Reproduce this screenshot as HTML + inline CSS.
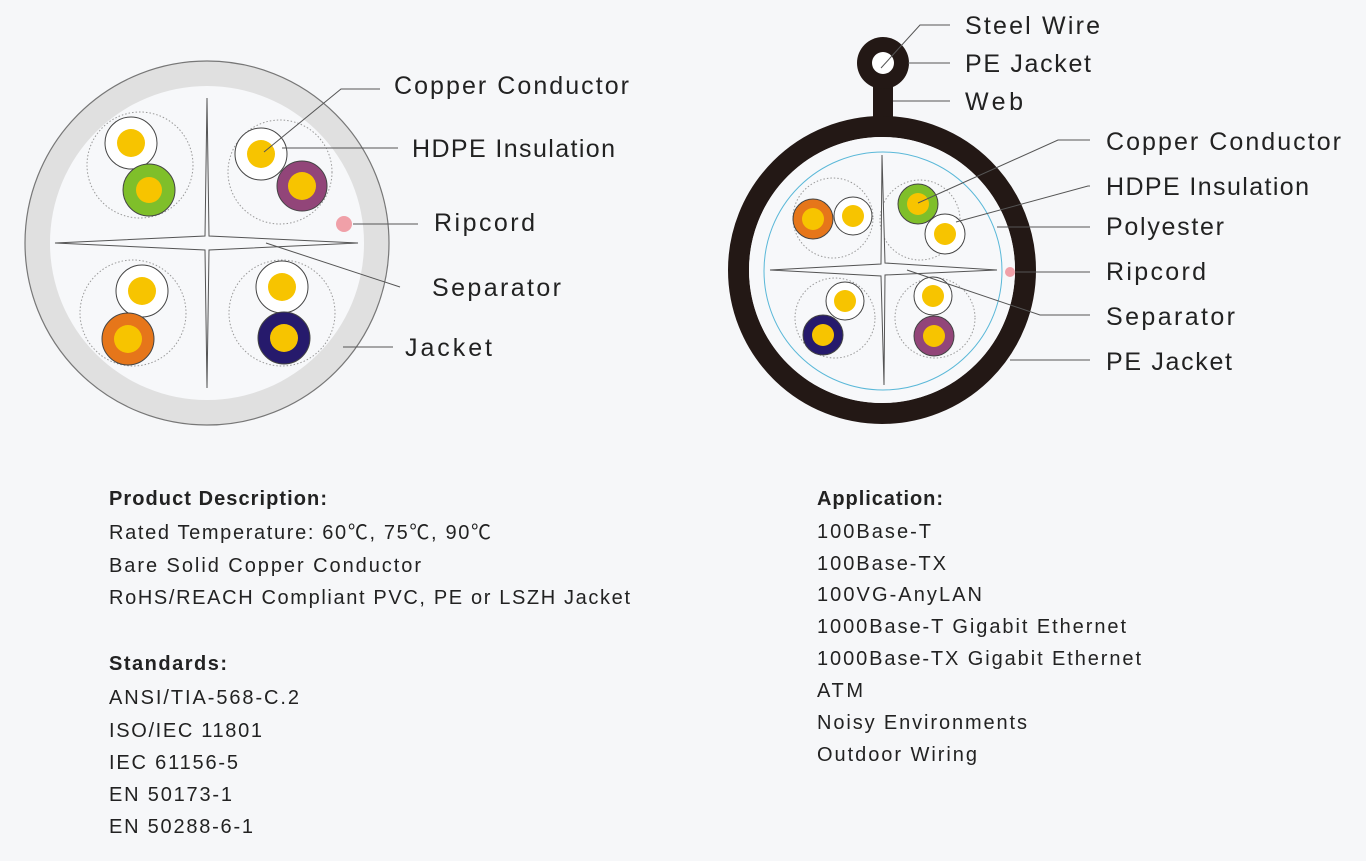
<!DOCTYPE html>
<html><head><meta charset="utf-8"><style>
body{margin:0;background:#f6f7f9;}
svg{display:block}
text{font-family:"Liberation Sans","Noto Sans CJK SC",sans-serif;fill:#222;}
.l{font-size:25px}
.b{font-size:20px}
.h{font-size:20px;font-weight:bold}
</style></head><body>
<svg width="1366" height="861" viewBox="0 0 1366 861">
<rect width="1366" height="861" fill="#f6f7f9"/>
<circle cx="207" cy="243" r="182" fill="#e0e0e0" stroke="#777" stroke-width="1.2"/>
<circle cx="207" cy="243" r="157" fill="#f7f8fa"/>
<g fill="none" stroke="#999" stroke-width="1" stroke-dasharray="1.5,2">
<circle cx="140" cy="165" r="53"/><circle cx="280" cy="172" r="52"/>
<circle cx="133" cy="313" r="53"/><circle cx="282" cy="313" r="53"/></g>
<path d="M207,98 L209,236 L358,243 L209,250 L207,388 L205,250 L55,243 L205,236 Z" fill="#f7f8fa" stroke="#555" stroke-width="1"/>
<g stroke="#444" stroke-width="1">
<circle cx="131" cy="143" r="26" fill="#fff"/><circle cx="149" cy="190" r="26" fill="#7fbf2a"/>
<circle cx="261" cy="154" r="26" fill="#fff"/><circle cx="302" cy="186" r="25" fill="#924579"/>
<circle cx="142" cy="291" r="26" fill="#fff"/><circle cx="128" cy="339" r="26" fill="#e6761a"/>
<circle cx="282" cy="287" r="26" fill="#fff"/><circle cx="284" cy="338" r="26" fill="#261a6c"/></g>
<g fill="#f7c400">
<circle cx="131" cy="143" r="14"/><circle cx="149" cy="190" r="13"/>
<circle cx="261" cy="154" r="14"/><circle cx="302" cy="186" r="14"/>
<circle cx="142" cy="291" r="14"/><circle cx="128" cy="339" r="14"/>
<circle cx="282" cy="287" r="14"/><circle cx="284" cy="338" r="14"/></g>
<circle cx="344" cy="224" r="8" fill="#f0a0a8"/>
<g stroke="#555" stroke-width="1" fill="none">
<polyline points="264,152 341,89 380,89"/>
<line x1="282" y1="148" x2="398" y2="148"/>
<line x1="353" y1="224" x2="418" y2="224"/>
<line x1="266" y1="243" x2="400" y2="287"/>
<line x1="343" y1="347" x2="393" y2="347"/></g>
<text class="l" x="394" y="94" textLength="235">Copper Conductor</text>
<text class="l" x="412" y="157" textLength="203">HDPE Insulation</text>
<text class="l" x="434" y="231" textLength="101">Ripcord</text>
<text class="l" x="432" y="296" textLength="129">Separator</text>
<text class="l" x="405" y="356" textLength="87">Jacket</text>
<rect x="873" y="75" width="20" height="50" fill="#231815"/>
<circle cx="883" cy="63" r="26" fill="#231815"/>
<circle cx="883" cy="63" r="11" fill="#fff"/>
<circle cx="882" cy="270" r="143.5" fill="none" stroke="#231815" stroke-width="21"/>
<circle cx="882" cy="270" r="133" fill="#f7f8fa"/>
<circle cx="883" cy="271" r="119" fill="none" stroke="#5ab8d8" stroke-width="1"/>
<g fill="none" stroke="#999" stroke-width="1" stroke-dasharray="1.5,2">
<circle cx="833" cy="218" r="40"/><circle cx="920" cy="220" r="40"/>
<circle cx="835" cy="318" r="40"/><circle cx="935" cy="318" r="40"/></g>
<path d="M882,155 L885,263 L997,270 L885,275 L884,385 L881,276 L770,270 L881,264 Z" fill="#f7f8fa" stroke="#555" stroke-width="1"/>
<g stroke="#444" stroke-width="1">
<circle cx="813" cy="219" r="20" fill="#e6761a"/><circle cx="853" cy="216" r="19" fill="#fff"/>
<circle cx="918" cy="204" r="20" fill="#7fbf2a"/><circle cx="945" cy="234" r="20" fill="#fff"/>
<circle cx="845" cy="301" r="19" fill="#fff"/><circle cx="823" cy="335" r="20" fill="#261a6c"/>
<circle cx="933" cy="296" r="19" fill="#fff"/><circle cx="934" cy="336" r="20" fill="#924579"/></g>
<g fill="#f7c400">
<circle cx="813" cy="219" r="11"/><circle cx="853" cy="216" r="11"/>
<circle cx="918" cy="204" r="11"/><circle cx="945" cy="234" r="11"/>
<circle cx="845" cy="301" r="11"/><circle cx="823" cy="335" r="11"/>
<circle cx="933" cy="296" r="11"/><circle cx="934" cy="336" r="11"/></g>
<circle cx="1010" cy="272" r="5" fill="#f0a0a8"/>
<g stroke="#555" stroke-width="1" fill="none">
<polyline points="881,68 920,25 950,25"/>
<line x1="908" y1="63" x2="950" y2="63"/>
<line x1="893" y1="101" x2="950" y2="101"/>
<polyline points="918,203 1058,140 1090,140"/>
<polyline points="956,222 1088,186 1090,186"/>
<line x1="997" y1="227" x2="1090" y2="227"/>
<line x1="1015" y1="272" x2="1090" y2="272"/>
<polyline points="907,270 1040,315 1090,315"/>
<line x1="1010" y1="360" x2="1090" y2="360"/></g>
<text class="l" x="965" y="34" textLength="135">Steel  Wire</text>
<text class="l" x="965" y="72" textLength="126">PE Jacket</text>
<text class="l" x="965" y="110" textLength="58">Web</text>
<text class="l" x="1106" y="150" textLength="235">Copper Conductor</text>
<text class="l" x="1106" y="195" textLength="203">HDPE Insulation</text>
<text class="l" x="1106" y="235" textLength="118">Polyester</text>
<text class="l" x="1106" y="280" textLength="100">Ripcord</text>
<text class="l" x="1106" y="325" textLength="129">Separator</text>
<text class="l" x="1106" y="370" textLength="126">PE Jacket</text>
<text class="h" x="109" y="505" textLength="218">Product Description:</text>
<text class="b" x="109" y="539" textLength="382">Rated Temperature: 60℃, 75℃, 90℃</text>
<text class="b" x="109" y="572" textLength="312">Bare Solid Copper Conductor</text>
<text class="b" x="109" y="604" textLength="521">RoHS/REACH Compliant PVC, PE or LSZH Jacket</text>
<text class="h" x="109" y="670" textLength="118">Standards:</text>
<text class="b" x="109" y="704" textLength="190">ANSI/TIA-568-C.2</text>
<text class="b" x="109" y="737" textLength="153">ISO/IEC 11801</text>
<text class="b" x="109" y="769" textLength="129">IEC 61156-5</text>
<text class="b" x="109" y="801" textLength="123">EN 50173-1</text>
<text class="b" x="109" y="833" textLength="144">EN 50288-6-1</text>
<text class="h" x="817" y="505" textLength="126">Application:</text>
<text class="b" x="817" y="538" textLength="114">100Base-T</text>
<text class="b" x="817" y="570" textLength="129">100Base-TX</text>
<text class="b" x="817" y="601" textLength="165">100VG-AnyLAN</text>
<text class="b" x="817" y="633" textLength="309">1000Base-T Gigabit Ethernet</text>
<text class="b" x="817" y="665" textLength="324">1000Base-TX Gigabit Ethernet</text>
<text class="b" x="817" y="697" textLength="46">ATM</text>
<text class="b" x="817" y="729" textLength="210">Noisy Environments</text>
<text class="b" x="817" y="761" textLength="160">Outdoor Wiring</text>
</svg>
</body></html>
